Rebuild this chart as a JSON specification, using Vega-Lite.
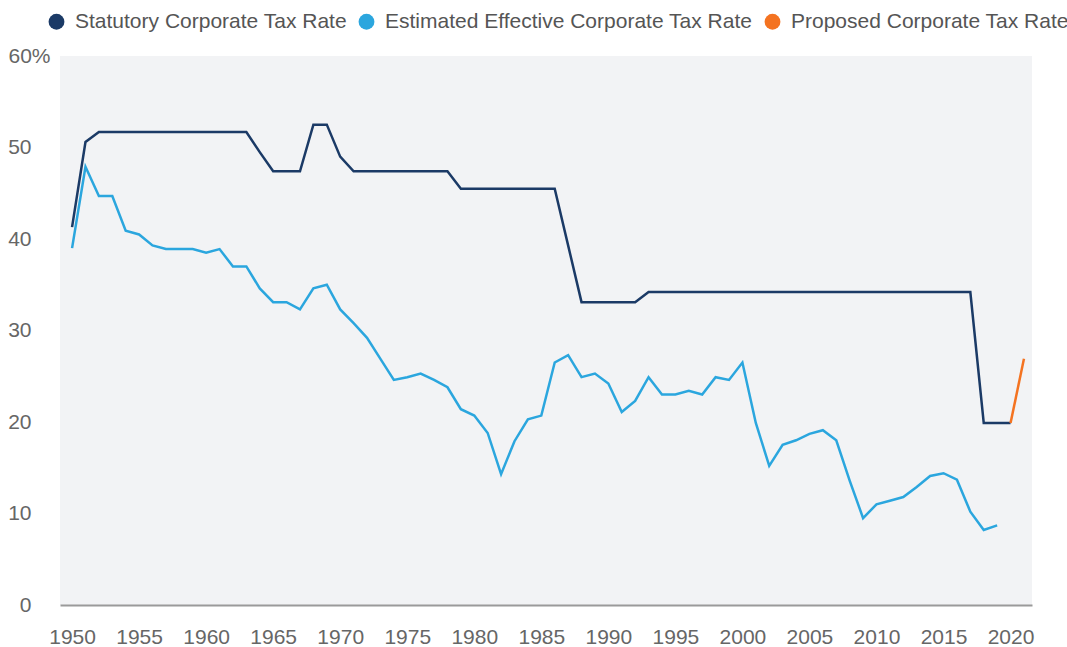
{
  "$schema": "https://vega.github.io/schema/vega-lite/v6.json",
  "width": 972,
  "height": 549,
  "autosize": {"type": "none"},
  "padding": {"left": 60, "top": 56, "right": 35, "bottom": 42},
  "background": "white",
  "config": {
    "view": {"fill": "#f2f3f5", "stroke": null},
    "font": "Liberation Sans"
  },
  "datasets": {
    "stat": [
      {"year": 1950, "rate": 41.3}, {"year": 1951, "rate": 50.6}, {"year": 1952, "rate": 51.7}, {"year": 1953, "rate": 51.7},
      {"year": 1954, "rate": 51.7}, {"year": 1955, "rate": 51.7}, {"year": 1956, "rate": 51.7}, {"year": 1957, "rate": 51.7},
      {"year": 1958, "rate": 51.7}, {"year": 1959, "rate": 51.7}, {"year": 1960, "rate": 51.7}, {"year": 1961, "rate": 51.7},
      {"year": 1962, "rate": 51.7}, {"year": 1963, "rate": 51.7}, {"year": 1964, "rate": 49.5}, {"year": 1965, "rate": 47.4},
      {"year": 1966, "rate": 47.4}, {"year": 1967, "rate": 47.4}, {"year": 1968, "rate": 52.5}, {"year": 1969, "rate": 52.5},
      {"year": 1970, "rate": 49.0}, {"year": 1971, "rate": 47.4}, {"year": 1972, "rate": 47.4}, {"year": 1973, "rate": 47.4},
      {"year": 1974, "rate": 47.4}, {"year": 1975, "rate": 47.4}, {"year": 1976, "rate": 47.4}, {"year": 1977, "rate": 47.4},
      {"year": 1978, "rate": 47.4}, {"year": 1979, "rate": 45.5}, {"year": 1980, "rate": 45.5}, {"year": 1981, "rate": 45.5},
      {"year": 1982, "rate": 45.5}, {"year": 1983, "rate": 45.5}, {"year": 1984, "rate": 45.5}, {"year": 1985, "rate": 45.5},
      {"year": 1986, "rate": 45.5}, {"year": 1987, "rate": 39.3}, {"year": 1988, "rate": 33.1}, {"year": 1989, "rate": 33.1},
      {"year": 1990, "rate": 33.1}, {"year": 1991, "rate": 33.1}, {"year": 1992, "rate": 33.1}, {"year": 1993, "rate": 34.2},
      {"year": 1994, "rate": 34.2}, {"year": 1995, "rate": 34.2}, {"year": 1996, "rate": 34.2}, {"year": 1997, "rate": 34.2},
      {"year": 1998, "rate": 34.2}, {"year": 1999, "rate": 34.2}, {"year": 2000, "rate": 34.2}, {"year": 2001, "rate": 34.2},
      {"year": 2002, "rate": 34.2}, {"year": 2003, "rate": 34.2}, {"year": 2004, "rate": 34.2}, {"year": 2005, "rate": 34.2},
      {"year": 2006, "rate": 34.2}, {"year": 2007, "rate": 34.2}, {"year": 2008, "rate": 34.2}, {"year": 2009, "rate": 34.2},
      {"year": 2010, "rate": 34.2}, {"year": 2011, "rate": 34.2}, {"year": 2012, "rate": 34.2}, {"year": 2013, "rate": 34.2},
      {"year": 2014, "rate": 34.2}, {"year": 2015, "rate": 34.2}, {"year": 2016, "rate": 34.2}, {"year": 2017, "rate": 34.2},
      {"year": 2018, "rate": 19.9}, {"year": 2019, "rate": 19.9}, {"year": 2020, "rate": 19.9}
    ],
    "eff": [
      {"year": 1950, "rate": 39.0}, {"year": 1951, "rate": 47.9}, {"year": 1952, "rate": 44.7}, {"year": 1953, "rate": 44.7},
      {"year": 1954, "rate": 40.9}, {"year": 1955, "rate": 40.5}, {"year": 1956, "rate": 39.3}, {"year": 1957, "rate": 38.9},
      {"year": 1958, "rate": 38.9}, {"year": 1959, "rate": 38.9}, {"year": 1960, "rate": 38.5}, {"year": 1961, "rate": 38.9},
      {"year": 1962, "rate": 37.0}, {"year": 1963, "rate": 37.0}, {"year": 1964, "rate": 34.6}, {"year": 1965, "rate": 33.1},
      {"year": 1966, "rate": 33.1}, {"year": 1967, "rate": 32.3}, {"year": 1968, "rate": 34.6}, {"year": 1969, "rate": 35.0},
      {"year": 1970, "rate": 32.3}, {"year": 1971, "rate": 30.8}, {"year": 1972, "rate": 29.2}, {"year": 1973, "rate": 26.9},
      {"year": 1974, "rate": 24.6}, {"year": 1975, "rate": 24.9}, {"year": 1976, "rate": 25.3}, {"year": 1977, "rate": 24.6},
      {"year": 1978, "rate": 23.8}, {"year": 1979, "rate": 21.4}, {"year": 1980, "rate": 20.7}, {"year": 1981, "rate": 18.8},
      {"year": 1982, "rate": 14.3}, {"year": 1983, "rate": 17.9}, {"year": 1984, "rate": 20.3}, {"year": 1985, "rate": 20.7},
      {"year": 1986, "rate": 26.5}, {"year": 1987, "rate": 27.3}, {"year": 1988, "rate": 24.9}, {"year": 1989, "rate": 25.3},
      {"year": 1990, "rate": 24.2}, {"year": 1991, "rate": 21.1}, {"year": 1992, "rate": 22.3}, {"year": 1993, "rate": 24.9},
      {"year": 1994, "rate": 23.0}, {"year": 1995, "rate": 23.0}, {"year": 1996, "rate": 23.4}, {"year": 1997, "rate": 23.0},
      {"year": 1998, "rate": 24.9}, {"year": 1999, "rate": 24.6}, {"year": 2000, "rate": 26.5}, {"year": 2001, "rate": 19.9},
      {"year": 2002, "rate": 15.2}, {"year": 2003, "rate": 17.5}, {"year": 2004, "rate": 18.0}, {"year": 2005, "rate": 18.7},
      {"year": 2006, "rate": 19.1}, {"year": 2007, "rate": 18.0}, {"year": 2008, "rate": 13.6}, {"year": 2009, "rate": 9.5},
      {"year": 2010, "rate": 11.0}, {"year": 2011, "rate": 11.4}, {"year": 2012, "rate": 11.8}, {"year": 2013, "rate": 12.9},
      {"year": 2014, "rate": 14.1}, {"year": 2015, "rate": 14.4}, {"year": 2016, "rate": 13.7}, {"year": 2017, "rate": 10.2},
      {"year": 2018, "rate": 8.2}, {"year": 2019, "rate": 8.7}
    ],
    "prop": [
      {"year": 2020, "rate": 19.9}, {"year": 2021, "rate": 26.9}
    ]
  },
  "layer": [
    {
      "data": {"name": "stat"},
      "transform": [{"calculate": "'Statutory Corporate Tax Rate'", "as": "series"}],
      "mark": {"type": "line", "strokeWidth": 2.5},
      "encoding": {
        "x": {"field": "year", "type": "quantitative"},
        "y": {"field": "rate", "type": "quantitative"},
        "color": {"field": "series", "type": "nominal"}
      }
    },
    {
      "data": {"name": "eff"},
      "transform": [{"calculate": "'Estimated Effective Corporate Tax Rate'", "as": "series"}],
      "mark": {"type": "line", "strokeWidth": 2.5},
      "encoding": {
        "x": {"field": "year", "type": "quantitative"},
        "y": {"field": "rate", "type": "quantitative"},
        "color": {"field": "series", "type": "nominal"}
      }
    },
    {
      "data": {"name": "prop"},
      "transform": [{"calculate": "'Proposed Corporate Tax Rate'", "as": "series"}],
      "mark": {"type": "line", "strokeWidth": 2.5},
      "encoding": {
        "x": {"field": "year", "type": "quantitative"},
        "y": {"field": "rate", "type": "quantitative"},
        "color": {"field": "series", "type": "nominal"}
      }
    }
  ],
  "encoding": {
    "x": {
      "field": "year", "type": "quantitative",
      "scale": {"domain": [1949.1, 2021.6], "nice": false, "zero": false},
      "axis": {
        "title": null, "values": [1950, 1955, 1960, 1965, 1970, 1975, 1980, 1985, 1990, 1995, 2000, 2005, 2010, 2015, 2020],
        "format": "d", "grid": false, "ticks": false, "tickSize": 0,
        "domainColor": "#9a9a9a", "domainWidth": 2,
        "labelFontSize": 21, "labelColor": "#666666", "labelPadding": 21
      }
    },
    "y": {
      "field": "rate", "type": "quantitative",
      "scale": {"domain": [0, 60], "nice": false},
      "axis": {
        "title": null, "values": [0, 10, 20, 30, 40, 50, 60],
        "labelExpr": "datum.value == 60 ? '60%' : datum.label",
        "grid": false, "ticks": false, "tickSize": 0, "domain": false,
        "labelAlign": "right",
        "labelPadding": {"condition": {"test": "datum.value == 60", "value": 10}, "value": 29},
        "labelFontSize": 21, "labelColor": "#666666"
      }
    },
    "color": {
      "field": "series", "type": "nominal",
      "scale": {
        "domain": ["Statutory Corporate Tax Rate", "Estimated Effective Corporate Tax Rate", "Proposed Corporate Tax Rate"],
        "range": ["#1b3a66", "#2ba6de", "#f47321"]
      },
      "legend": {
        "title": null, "orient": "none", "legendX": -14, "legendY": -45,
        "direction": "horizontal", "symbolType": "circle", "symbolSize": 250,
        "labelFontSize": 21, "labelColor": "#555555", "labelOffset": 8, "columnPadding": 9,
        "labelLimit": 500,
        "encode": {"symbols": {"update": {"fill": {"scale": "color", "field": "value"}, "stroke": {"value": "transparent"}, "strokeWidth": {"value": 0}}}}
      }
    }
  }
}
